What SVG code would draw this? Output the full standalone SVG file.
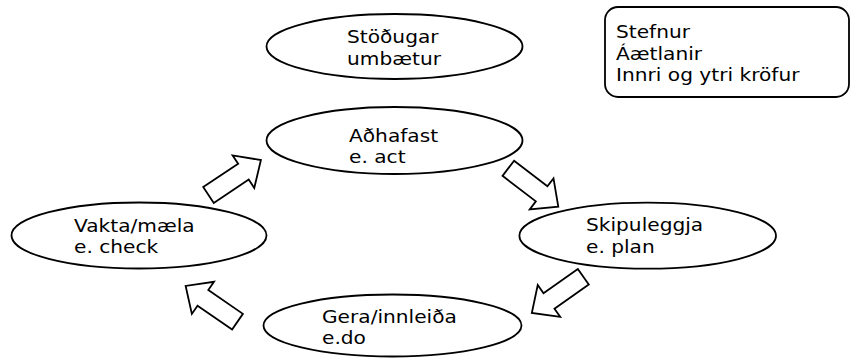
<svg xmlns="http://www.w3.org/2000/svg" xmlns:xlink="http://www.w3.org/1999/xlink" width="851" height="358" viewBox="0 0 851 358">
  <style>
    .shape { fill: #ffffff; stroke: #000000; stroke-width: 1.8; }
    .arrow { fill: #ffffff; stroke: #000000; stroke-width: 1.8; stroke-linejoin: miter; }
    .label { font-family: "DejaVu Sans", Verdana, sans-serif; font-size: 18.5px; fill: #000000; }
  </style>
  <defs>
    <path id="blockArrow" d="M0,-9.5 L42,-9.5 L42,-19.5 L63,0 L42,19.5 L42,9.5 L0,9.5 Z"/>
  </defs>
  <rect width="851" height="358" fill="#ffffff"/>

  <g id="connectors">
    <use xlink:href="#blockArrow" href="#blockArrow" class="arrow" transform="translate(208.5,195) rotate(-33.7)"/>
    <use xlink:href="#blockArrow" href="#blockArrow" class="arrow" transform="translate(508.3,168.3) rotate(37.5)"/>
    <use xlink:href="#blockArrow" href="#blockArrow" class="arrow" transform="translate(583.3,276.7) rotate(144.8)"/>
    <use xlink:href="#blockArrow" href="#blockArrow" class="arrow" transform="translate(237.5,321.7) rotate(214.6)"/>
  </g>

  <g id="node-stodugar">
    <ellipse class="shape" cx="394.5" cy="46.5" rx="128" ry="32.5"/>
    <text class="label" transform="translate(347,43) scale(1.09,1)">Stöðugar</text>
    <text class="label" transform="translate(347,65) scale(1.09,1)">umbætur</text>
  </g>

  <g id="node-stefnur">
    <rect class="shape" x="605" y="7" width="244" height="90" rx="13" ry="13"/>
    <text class="label" transform="translate(616,37.5) scale(1.09,1)">Stefnur</text>
    <text class="label" transform="translate(616,59.5) scale(1.09,1)">Áætlanir</text>
    <text class="label" transform="translate(616,81) scale(1.09,1)">Innri og ytri kröfur</text>
  </g>

  <g id="node-adhafast">
    <ellipse class="shape" cx="394.5" cy="140.5" rx="128" ry="33.5"/>
    <text class="label" transform="translate(349,141.5) scale(1.09,1)">Aðhafast</text>
    <text class="label" transform="translate(349,163) scale(1.09,1)">e. act</text>
  </g>

  <g id="node-skipuleggja">
    <ellipse class="shape" cx="647.7" cy="235.7" rx="128.3" ry="33"/>
    <text class="label" transform="translate(586,230.5) scale(1.09,1)">Skipuleggja</text>
    <text class="label" transform="translate(586,252.5) scale(1.09,1)">e. plan</text>
  </g>

  <g id="node-vakta">
    <ellipse class="shape" cx="139" cy="235.5" rx="127.5" ry="33"/>
    <text class="label" transform="translate(74,231.5) scale(1.09,1)">Vakta/mæla</text>
    <text class="label" transform="translate(74,253) scale(1.09,1)">e. check</text>
  </g>

  <g id="node-gera">
    <ellipse class="shape" cx="392.5" cy="325.5" rx="129" ry="31"/>
    <text class="label" transform="translate(322,323) scale(1.09,1)">Gera/innleiða</text>
    <text class="label" transform="translate(322,344) scale(1.09,1)">e.do</text>
  </g>
</svg>
